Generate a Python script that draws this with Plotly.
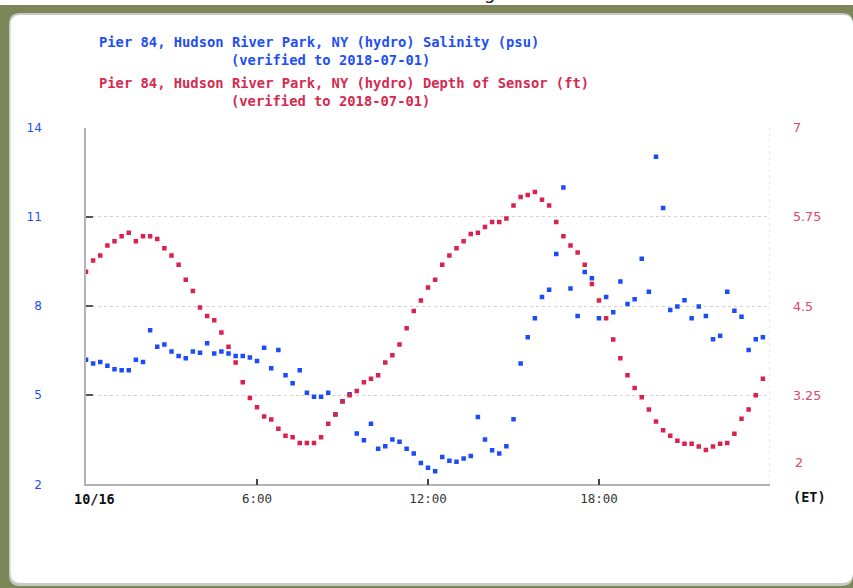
import plotly.graph_objects as go
import pandas as pd

# ---------------- data ----------------
times = pd.date_range("2018-10-16 00:00", periods=96, freq="15min")

salinity = [
    6.19, 6.07, 6.12, 5.99, 5.87, 5.84, 5.84, 6.19, 6.12, 7.19,
    6.63, 6.71, 6.47, 6.32, 6.24, 6.47, 6.43, 6.75, 6.40, 6.47,
    6.40, 6.32, 6.32, 6.27, 6.15, 6.60, 5.91, 6.52, 5.67, 5.40,
    5.84, 5.08, 4.95, 4.95, 5.08, 4.36, 4.80, 5.03, 3.71, 3.48,
    4.04, 3.20, 3.28, 3.51, 3.43, 3.20, 3.04, 2.72, 2.56, 2.44,
    2.92, 2.79, 2.76, 2.87, 2.95, 4.27, 3.51, 3.15, 3.04, 3.28,
    4.19, 6.07, 6.95, 7.59, 8.31, 8.55, 9.75, 11.99, 8.59, 7.67,
    9.15, 8.94, 7.59, 8.31, 7.79, 8.83, 8.07, 8.23, 9.59, 8.48,
    13.03, 11.30, 7.87, 7.99, 8.20, 7.59, 7.99, 7.67, 6.88, 7.00,
    8.48, 7.84, 7.64, 6.52, 6.88, 6.95,
]

depth = [
    4.98, 5.14, 5.21, 5.35, 5.41, 5.48, 5.53, 5.41, 5.48, 5.48,
    5.44, 5.31, 5.21, 5.08, 4.87, 4.71, 4.48, 4.36, 4.30, 4.13,
    3.93, 3.71, 3.43, 3.21, 3.08, 2.95, 2.91, 2.78, 2.68, 2.66,
    2.58, 2.58, 2.58, 2.66, 2.85, 2.98, 3.16, 3.25, 3.31, 3.43,
    3.48, 3.53, 3.71, 3.81, 3.96, 4.19, 4.43, 4.58, 4.76, 4.87,
    5.08, 5.21, 5.31, 5.41, 5.51, 5.53, 5.61, 5.68, 5.68, 5.73,
    5.91, 6.03, 6.06, 6.10, 5.99, 5.91, 5.68, 5.48, 5.35, 5.25,
    5.08, 4.81, 4.58, 4.33, 4.03, 3.77, 3.53, 3.35, 3.22, 3.05,
    2.88, 2.76, 2.68, 2.61, 2.57, 2.57, 2.53, 2.48, 2.53, 2.57,
    2.58, 2.71, 2.92, 3.05, 3.25, 3.48,
]

x_tick_vals = ["2018-10-16 06:00", "2018-10-16 12:00", "2018-10-16 18:00"]
x_tick_text = ["6:00", "12:00", "18:00"]
left_ticks = [2, 5, 8, 11, 14]
right_ticks = [3.25, 4.5, 5.75, 7]
right_tick_text = ["3.25", "4.5", "5.75", "7"]

title_lines = [
    ("Pier 84, Hudson River Park, NY (hydro) Salinity (psu)", "blue", 97, 41),
    ("(verified to 2018-07-01)", "blue", 228.5, 59),
    ("Pier 84, Hudson River Park, NY (hydro) Depth of Sensor (ft)", "red", 97, 82.5),
    ("(verified to 2018-07-01)", "red", 228.5, 100),
]

# ---------------- styling ----------------
W, H = 853, 601
BLUE = "#1c4cf5"
RED = "#d9234d"
RED_LABEL = "#e0466a"
TXT_BLUE = "#1f4ff2"
TXT_RED = "#d42a50"
MONO = "DejaVu Sans Mono"

# the photographed picture maps page y to picture y roughly as  y_pic = 0.9785*y_page + 7
SCALE_Y, OFF_Y = 0.9785, 7.0


def px(x):
    return x / W


def py(y_pic):
    y_page = (y_pic - OFF_Y) / SCALE_Y
    return 1 - y_page / H


def rrect(x0, y0, x1, y1, r):
    # rounded rectangle path in paper coords (picture-pixel input)
    pts = [
        f"M {px(x0 + r)} {py(y0)}",
        f"L {px(x1 - r)} {py(y0)}",
        f"Q {px(x1)} {py(y0)} {px(x1)} {py(y0 + r)}",
        f"L {px(x1)} {py(y1 - r)}",
        f"Q {px(x1)} {py(y1)} {px(x1 - r)} {py(y1)}",
        f"L {px(x0 + r)} {py(y1)}",
        f"Q {px(x0)} {py(y1)} {px(x0)} {py(y1 - r)}",
        f"L {px(x0)} {py(y0 + r)}",
        f"Q {px(x0)} {py(y0)} {px(x0 + r)} {py(y0)}",
        "Z",
    ]
    return " ".join(pts)


fig = go.Figure()
fig.add_trace(go.Scatter(
    x=times, y=salinity, mode="markers", yaxis="y",
    marker=dict(symbol="square", size=4.5, color=BLUE, line=dict(width=0)),
    name="Salinity (psu)", hoverinfo="x+y",
))
fig.add_trace(go.Scatter(
    x=times, y=depth, mode="markers", yaxis="y2",
    marker=dict(symbol="square", size=4.5, color=RED, line=dict(width=0)),
    name="Depth of Sensor (ft)", hoverinfo="x+y",
))

x0p, x1p = 86, 770
ytop, ybot = 127.3, 485

shapes = [
    # olive outer frame
    dict(type="rect", xref="paper", yref="paper", x0=0, x1=1, y0=py(600), y1=py(4),
         fillcolor="#7b8758", line=dict(width=0), layer="below"),
    # shadow
    dict(type="path", xref="paper", yref="paper", path=rrect(9, 12, 853, 587, 11),
         fillcolor="#c9c9c4", line=dict(width=0), layer="below"),
    # white panel
    dict(type="path", xref="paper", yref="paper", path=rrect(10.5, 14, 853, 584, 10),
         fillcolor="#ffffff", line=dict(width=0), layer="below"),
    # right dashed border of plot area
    dict(type="line", xref="x", yref="paper", x0="2018-10-17 00:00", x1="2018-10-17 00:00",
         y0=py(ybot), y1=py(ytop), line=dict(color="#cfcfcf", width=1, dash="3px,3px"),
         layer="below"),
]

annotations = []
for text, col, x, y in title_lines:
    annotations.append(dict(
        text="<b>" + text + "</b>", xref="paper", yref="paper", x=px(x), y=py(y),
        xanchor="left", yanchor="middle", showarrow=False,
        font=dict(family=MONO, size=13.8, color=TXT_BLUE if col == "blue" else TXT_RED),
    ))
annotations += [
    dict(text="<b>10/16</b>", xref="paper", yref="paper", x=px(94.5), y=py(500),
         xanchor="center", yanchor="middle", showarrow=False,
         font=dict(family=MONO, size=13.5, color="#111111")),
    dict(text="<b>(ET)</b>", xref="paper", yref="paper", x=px(809.5), y=py(498),
         xanchor="center", yanchor="middle", showarrow=False,
         font=dict(family=MONO, size=13.5, color="#111111")),
    dict(text="2", xref="paper", yref="paper", x=px(793), y=py(463),
         xanchor="left", yanchor="middle", showarrow=False,
         font=dict(family="DejaVu Sans", size=12.7, color=RED_LABEL)),
    dict(text="g", xref="paper", yref="paper", x=px(489), y=py(4),
         xanchor="center", yanchor="bottom", showarrow=False,
         font=dict(family="DejaVu Sans", size=18, color="#222222")),
]

fig.update_layout(
    width=W, height=H,
    margin=dict(l=0, r=0, t=0, b=0, pad=0),
    paper_bgcolor="#ffffff",
    plot_bgcolor="rgba(0,0,0,0)",
    showlegend=False,
    shapes=shapes,
    annotations=annotations,
    xaxis=dict(
        domain=[px(x0p), px(x1p)],
        type="date",
        range=["2018-10-16 00:00", "2018-10-17 00:00"],
        tickmode="array", tickvals=x_tick_vals, ticktext=x_tick_text,
        ticks="inside", ticklen=6, tickwidth=1.5, tickcolor="#444444",
        showline=True, linecolor="#b4b4b4", linewidth=1.5,
        showgrid=False, zeroline=False,
        tickfont=dict(family=MONO, size=12.5, color="#333333"),
        ticklabelstandoff=2,
        fixedrange=True,
    ),
    yaxis=dict(
        domain=[py(ybot), py(ytop)],
        range=[2, 14],
        tickmode="array", tickvals=left_ticks,
        ticks="inside", ticklen=7, tickwidth=2, tickcolor="#555555",
        showline=True, linecolor="#b4b4b4", linewidth=1.5,
        showgrid=True, gridcolor="#d2d2d2", griddash="3px,3px", gridwidth=1,
        zeroline=False,
        tickfont=dict(family="DejaVu Sans", size=12, color=TXT_BLUE),
        ticklabelstandoff=40,
        fixedrange=True,
    ),
    yaxis2=dict(
        overlaying="y", side="right",
        range=[2, 7],
        tickmode="array", tickvals=right_ticks, ticktext=right_tick_text,
        ticks="", showline=False, showgrid=False, zeroline=False,
        tickfont=dict(family="DejaVu Sans", size=12.7, color=RED_LABEL),
        ticklabelstandoff=22,
        fixedrange=True,
    ),
)

post = (
    "document.documentElement.style.margin='0px';"
    "document.documentElement.style.overflow='hidden';"
    "document.body.style.margin='0px';"
    "document.body.style.overflow='hidden';"
    "var gd=document.getElementById('{plot_id}');"
    "gd.style.position='fixed';gd.style.left='0px';gd.style.top='0px';"
)

fig.write_html("out.html", config={"displayModeBar": False}, post_script=post)
